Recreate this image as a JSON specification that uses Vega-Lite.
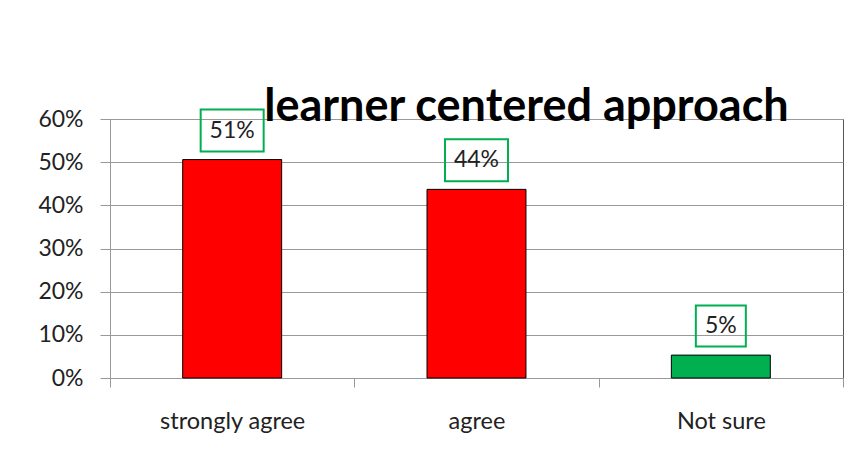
{
  "$schema": "https://vega.github.io/schema/vega-lite/v6.json",
  "width": 733,
  "height": 259,
  "autosize": {"type": "none"},
  "padding": {"left": 110, "top": 119, "right": 16, "bottom": 84},
  "background": "white",
  "title": {
    "text": "learner centered approach",
    "font": "Lato",
    "fontSize": 45,
    "fontWeight": "bold",
    "color": "#000000",
    "anchor": "middle",
    "frame": "group",
    "baseline": "alphabetic",
    "offset": 0,
    "dx": 50,
    "dy": 60
  },
  "data": {
    "values": [
      {"response": "strongly agree", "pct": 0.506, "label": "51%"},
      {"response": "agree", "pct": 0.437, "label": "44%"},
      {"response": "Not sure", "pct": 0.053, "label": "5%"}
    ]
  },
  "encoding": {
    "x": {
      "field": "response",
      "type": "nominal",
      "sort": ["strongly agree", "agree", "Not sure"],
      "scale": {"paddingInner": 0, "paddingOuter": 0},
      "axis": {
        "title": null,
        "labelAngle": 0,
        "tickBand": "extent",
        "tickSize": 9,
        "tickColor": "#999999",
        "domainColor": "#999999",
        "labelPadding": 22,
        "labelFont": "Lato",
        "labelFontSize": 23.5,
        "labelColor": "#222222"
      }
    },
    "y": {
      "field": "pct",
      "type": "quantitative",
      "scale": {"domain": [0, 0.6], "nice": false},
      "axis": {
        "title": null,
        "format": ".0%",
        "values": [0, 0.1, 0.2, 0.3, 0.4, 0.5, 0.6],
        "tickSize": 10,
        "tickColor": "#999999",
        "domainColor": "#999999",
        "gridColor": "#999999",
        "labelPadding": 17,
        "labelFont": "Lato",
        "labelFontSize": 23,
        "labelColor": "#222222"
      }
    }
  },
  "layer": [
    {
      "mark": {"type": "bar", "stroke": "#000000", "strokeWidth": 1, "width": {"band": 0.405}},
      "encoding": {
        "color": {
          "field": "response",
          "type": "nominal",
          "scale": {"domain": ["strongly agree", "agree", "Not sure"], "range": ["#FF0000", "#FF0000", "#00B050"]},
          "legend": null
        }
      }
    },
    {
      "transform": [{"filter": "datum.pct >= 0.1"}],
      "mark": {
        "type": "point",
        "shape": "M-1,-0.667L1,-0.667L1,0.667L-1,0.667Z",
        "size": 3969,
        "filled": false,
        "stroke": "#00B050",
        "strokeWidth": 2,
        "opacity": 1,
        "yOffset": -29
      }
    },
    {
      "transform": [{"filter": "datum.pct < 0.1"}],
      "mark": {
        "type": "point",
        "shape": "M-1,-0.82L1,-0.82L1,0.82L-1,0.82Z",
        "size": 2500,
        "filled": false,
        "stroke": "#00B050",
        "strokeWidth": 2,
        "opacity": 1,
        "yOffset": -29
      }
    },
    {
      "mark": {
        "type": "text",
        "font": "Lato",
        "fontSize": 23,
        "color": "#222222",
        "baseline": "middle",
        "align": "center",
        "yOffset": -29
      },
      "encoding": {"text": {"field": "label"}}
    }
  ],
  "config": {
    "view": {"stroke": "#555555", "strokeWidth": 1}
  }
}
